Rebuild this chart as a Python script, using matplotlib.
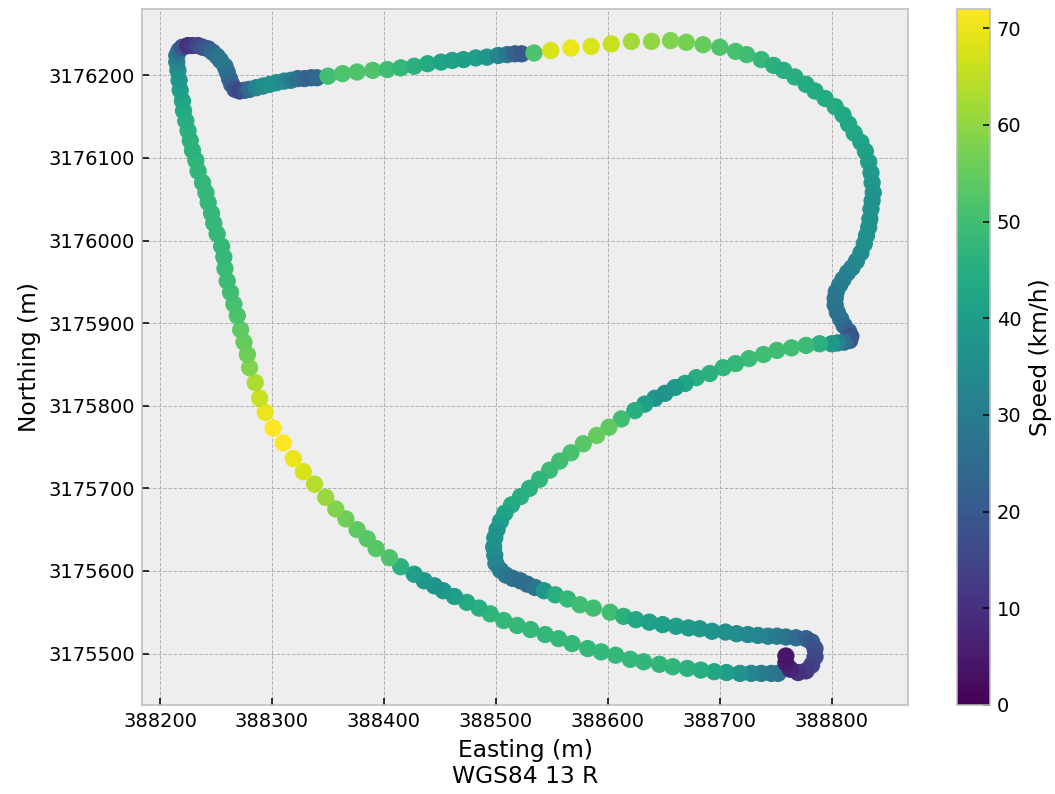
import numpy as np
import matplotlib
matplotlib.use("Agg")
import matplotlib.pyplot as plt

easting = [
    388752, 388746, 388737, 388728, 388718, 388706, 388695, 388683, 388671, 388658,
    388646, 388632, 388620, 388607, 388594, 388582, 388568, 388556, 388544, 388531,
    388519, 388507, 388495, 388485, 388474, 388463, 388453, 388445, 388436, 388427,
    388415, 388405, 388393, 388385, 388376, 388366, 388357, 388348, 388338, 388328,
    388319, 388310, 388301, 388294, 388289, 388285, 388280, 388278, 388275, 388272,
    388269, 388266, 388263, 388260, 388258, 388257, 388255, 388251, 388248, 388246,
    388243, 388241, 388238, 388234, 388232, 388229, 388227, 388225, 388223, 388221,
    388220, 388218, 388217, 388216, 388215, 388215, 388217, 388220, 388225, 388229,
    388234, 388238, 388243, 388247, 388251, 388254, 388258, 388260, 388262, 388264,
    388267, 388271, 388276, 388280, 388286, 388292, 388298, 388304, 388311, 388317,
    388323, 388329, 388335, 388340, 388350, 388363, 388376, 388390, 388403, 388415,
    388427, 388439, 388451, 388461, 388471, 388482, 388492, 388502, 388510, 388517,
    388523, 388534, 388549, 388567, 388585, 388603, 388621, 388639, 388656, 388670,
    388685, 388700, 388714, 388724, 388737, 388748, 388757, 388767, 388777, 388785,
    388794, 388803, 388810, 388815, 388820, 388826, 388830, 388833, 388835, 388836,
    388837, 388836, 388835, 388834, 388833, 388831, 388829, 388826, 388822, 388818,
    388814, 388810, 388807, 388804, 388803, 388803, 388805, 388808, 388811, 388815,
    388817, 388816, 388811, 388805, 388800, 388789, 388777, 388764, 388751, 388739,
    388726, 388714, 388703, 388691, 388679, 388669, 388660, 388651, 388642, 388633,
    388624, 388612, 388601, 388590, 388578, 388567, 388557, 388548, 388539, 388530,
    388522, 388514, 388508, 388504, 388501, 388499, 388498, 388499, 388500, 388504,
    388509, 388515, 388522, 388528, 388535, 388543, 388553, 388564, 388575, 388587,
    388602, 388614, 388625, 388637, 388649, 388661, 388672, 388682, 388693, 388705,
    388715, 388725, 388734, 388743, 388751, 388759, 388768, 388777, 388782, 388785,
    388785, 388782, 388777, 388770, 388763, 388759, 388759,
]

northing = [
    3175476, 3175476, 3175476, 3175476, 3175476, 3175477, 3175478, 3175480, 3175482, 3175484,
    3175487, 3175490, 3175493, 3175498, 3175502, 3175506, 3175512, 3175518, 3175523, 3175529,
    3175534, 3175540, 3175548, 3175555, 3175562, 3175569, 3175576, 3175582, 3175588, 3175596,
    3175605, 3175616, 3175627, 3175639, 3175650, 3175663, 3175675, 3175689, 3175705, 3175720,
    3175736, 3175755, 3175773, 3175792, 3175809, 3175828, 3175846, 3175862, 3175877, 3175892,
    3175909, 3175923, 3175937, 3175951, 3175966, 3175980, 3175993, 3176008, 3176021, 3176033,
    3176046, 3176058, 3176070, 3176084, 3176097, 3176109, 3176121, 3176133, 3176145, 3176157,
    3176169, 3176182, 3176194, 3176206, 3176216, 3176224, 3176230, 3176234, 3176236, 3176236,
    3176236, 3176234, 3176232, 3176228, 3176223, 3176218, 3176211, 3176204, 3176196, 3176189,
    3176183, 3176181, 3176182, 3176183, 3176185, 3176187, 3176189, 3176191, 3176193, 3176194,
    3176196, 3176196, 3176197, 3176197, 3176199, 3176202, 3176204, 3176206, 3176207, 3176209,
    3176211, 3176214, 3176216, 3176218, 3176219, 3176221, 3176222, 3176224, 3176225, 3176226,
    3176226, 3176227, 3176230, 3176233, 3176235, 3176238, 3176241, 3176241, 3176242, 3176240,
    3176237, 3176234, 3176229, 3176225, 3176219, 3176212, 3176206, 3176198, 3176189, 3176181,
    3176172, 3176162, 3176152, 3176141, 3176130, 3176119, 3176108, 3176095, 3176082, 3176070,
    3176058, 3176048, 3176038, 3176026, 3176016, 3176006, 3175996, 3175985, 3175975, 3175967,
    3175961, 3175953, 3175946, 3175938, 3175930, 3175922, 3175913, 3175905, 3175897, 3175890,
    3175884, 3175879, 3175877, 3175876, 3175875, 3175875, 3175873, 3175870, 3175867, 3175862,
    3175857, 3175851, 3175846, 3175839, 3175834, 3175827, 3175822, 3175815, 3175809, 3175802,
    3175794, 3175784, 3175774, 3175764, 3175754, 3175743, 3175733, 3175722, 3175711, 3175700,
    3175690, 3175680, 3175670, 3175660, 3175650, 3175640, 3175629, 3175619, 3175609, 3175601,
    3175595, 3175591, 3175588, 3175584, 3175580, 3175576, 3175571, 3175566, 3175559, 3175555,
    3175550, 3175545, 3175541, 3175538, 3175535, 3175533, 3175531, 3175530, 3175527, 3175526,
    3175524, 3175523, 3175522, 3175521, 3175521, 3175520, 3175519, 3175518, 3175514, 3175506,
    3175496, 3175486, 3175479, 3175477, 3175481, 3175489, 3175497,
]

speed_kmh = [
    27, 28, 30, 33, 37, 40, 43, 45, 46, 47,
    47, 47, 48, 48, 48, 48, 48, 48, 48, 48,
    48, 48, 47, 45, 44, 40, 38, 37, 38, 40,
    46, 52, 53, 53, 54, 56, 58, 61, 64, 68,
    70, 72, 72, 70, 66, 63, 58, 56, 55, 54,
    52, 51, 50, 49, 49, 48, 48, 48, 48, 48,
    48, 48, 48, 47, 47, 46, 46, 46, 45, 44,
    42, 40, 38, 36, 33, 30, 25, 18, 10, 12,
    15, 18, 20, 24, 27, 28, 28, 27, 25, 22,
    18, 15, 18, 25, 32, 35, 36, 36, 34, 30,
    27, 24, 22, 24, 50, 52, 52, 52, 50, 48,
    46, 44, 42, 41, 40, 40, 38, 33, 28, 22,
    20, 52, 68, 70, 68, 66, 62, 60, 58, 57,
    55, 52, 51, 50, 48, 46, 45, 45, 44, 44,
    44, 44, 43, 43, 43, 42, 41, 40, 39, 38,
    37, 37, 36, 36, 36, 36, 36, 35, 34, 33,
    32, 31, 30, 29, 28, 28, 27, 27, 25, 22,
    18, 20, 26, 32, 38, 46, 49, 50, 50, 50,
    49, 48, 47, 46, 45, 42, 39, 37, 37, 41,
    45, 50, 54, 55, 53, 51, 50, 49, 47, 46,
    45, 44, 42, 40, 38, 37, 36, 35, 33, 31,
    29, 27, 26, 25, 28, 38, 45, 48, 50, 50,
    50, 46, 43, 41, 40, 40, 39, 38, 37, 36,
    35, 34, 33, 32, 30, 28, 25, 22, 20, 18,
    16, 14, 12, 10, 7, 5, 4,
]

plt.style.use("bmh")
plt.rcParams["font.family"] = ["DejaVu Sans"]
plt.rcParams["xtick.direction"] = "in"
plt.rcParams["ytick.direction"] = "in"

fig = plt.figure(figsize=(1055 / 140, 794 / 140), dpi=140)
ax = fig.add_axes([0.1346, 0.1121, 0.7261, 0.8766])
cax = fig.add_axes([0.9071, 0.1121, 0.0313, 0.8766])

sc = ax.scatter(easting, northing, c=speed_kmh, cmap="viridis",
                vmin=0, vmax=max(speed_kmh), s=70, zorder=2)
ax.set_axisbelow(True)
ax.ticklabel_format(useOffset=False, style="plain")
ax.set_xlabel("Easting (m)\nWGS84 13 R")
ax.set_ylabel("Northing (m)")

cb = fig.colorbar(sc, cax=cax)
cb.set_label("Speed (km/h)")
cax.grid(False)
cb.outline.set_edgecolor("#bcbcbc")

fig.savefig("out.png", dpi=140)
